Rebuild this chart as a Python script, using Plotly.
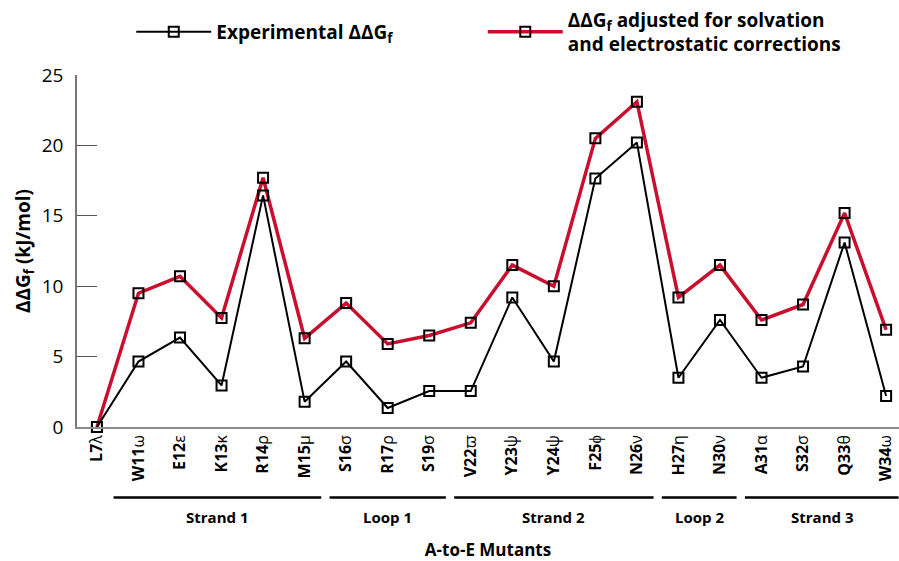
import plotly.graph_objects as go

# ---- data ----
mutants = ["L7λ", "W11ω", "E12ε", "K13κ", "R14ρ", "M15μ", "S16σ", "R17ρ", "S19σ", "V22ϖ",
           "Y23ψ", "Y24ψ", "F25ϕ", "N26ν", "H27η", "N30ν", "A31α", "S32σ", "Q33θ", "W34ω"]
experimental = [0.0, 4.65, 6.35, 2.95, 16.45, 1.8, 4.65, 1.35, 2.55, 2.55,
                9.2, 4.65, 17.65, 20.2, 3.5, 7.6, 3.5, 4.3, 13.1, 2.2]
adjusted = [0.0, 9.5, 10.7, 7.75, 17.7, 6.3, 8.8, 5.9, 6.5, 7.4,
            11.5, 10.0, 20.5, 23.1, 9.2, 11.5, 7.6, 8.7, 15.2, 6.9]
groups = ["Strand 1", "Loop 1", "Strand 2", "Loop 2", "Strand 3"]
group_first = [1, 6, 9, 14, 16]   # index of first mutant in each group
group_last = [5, 8, 13, 15, 19]   # index of last mutant in each group
y_ticks = [0, 5, 10, 15, 20, 25]

FONT = "Open Sans"
idx = list(range(len(mutants)))
tick_text = []
for m in mutants:
    tick_text.append("<b>" + m[:-1] + "</b>" + m[-1])

fig = go.Figure()
fig.add_trace(go.Scatter(
    x=idx, y=adjusted, mode="lines+markers",
    name="<b>ΔΔG<sub>f</sub> adjusted for solvation<br>and electrostatic corrections</b>",
    line=dict(color="#c8102e", width=3.5),
    marker=dict(symbol="square-open", size=10, color="black", line=dict(width=2, color="black")),
    cliponaxis=False, legend="legend2",
))
fig.add_trace(go.Scatter(
    x=idx, y=experimental, mode="lines+markers",
    name="<b>Experimental ΔΔG<sub>f</sub></b>",
    line=dict(color="black", width=2),
    marker=dict(symbol="square-open", size=10, color="black", line=dict(width=2, color="black")),
    cliponaxis=False, legend="legend",
))

shapes = []
annotations = []
for i, g in enumerate(groups):
    x0 = group_first[i] - 0.4 if i > 0 else group_first[i] - 0.6
    x1 = group_last[i] + 0.4 if i < len(groups) - 1 else group_last[i] + 0.3
    shapes.append(dict(type="line", xref="x", yref="paper", x0=x0, x1=x1, y0=-0.2, y1=-0.2,
                       line=dict(color="black", width=2.5)))
    annotations.append(dict(xref="x", yref="paper", x=(x0 + x1) / 2, y=-0.255, text="<b>" + g + "</b>",
                            showarrow=False, font=dict(size=15, color="black", family=FONT),
                            xanchor="center", yanchor="middle"))

legend_style = dict(orientation="h", xref="container", yref="container",
                    xanchor="left", yanchor="middle",
                    font=dict(size=19, color="black", family=FONT), itemwidth=75,
                    valign="middle", bgcolor="rgba(0,0,0,0)")

fig.update_layout(
    width=899, height=561,
    margin=dict(l=77, r=0, t=75, b=134),
    plot_bgcolor="white", paper_bgcolor="white",
    font=dict(family=FONT, color="black"),
    showlegend=True,
    legend=dict(legend_style, x=0.146, y=0.943),
    legend2=dict(legend_style, x=0.537, y=0.943),
    xaxis=dict(range=[-0.48, 19.31], tickmode="array", tickvals=idx, ticktext=tick_text,
               tickangle=-90, showgrid=False, zeroline=False, showline=True, linecolor="#8a8a8a",
               linewidth=1.5, ticks="", tickfont=dict(size=16, family=FONT, color="black"),
               title=dict(text="<b>A-to-E Mutants</b>", font=dict(size=17, family=FONT), standoff=64),
               automargin=False),
    yaxis=dict(range=[0, 25], tickvals=y_ticks, showgrid=False, zeroline=False, showline=True,
               linecolor="#777777", linewidth=1.5, ticks="inside", ticklen=20, tickcolor="#555555",
               tickwidth=1.2, tickfont=dict(size=19, family=FONT, color="black"),
               tickprefix="<b>", ticksuffix="</b>", ticklabelstandoff=8,
               title=dict(text="<b>ΔΔG<sub>f</sub> (kJ/mol)</b>", font=dict(size=19, family=FONT), standoff=6),
               automargin=False),
    shapes=shapes, annotations=annotations,
)
fig.write_html("out.html", config={"displayModeBar": False},
               post_script="document.body.style.margin='0px';document.body.style.overflow='hidden';")
